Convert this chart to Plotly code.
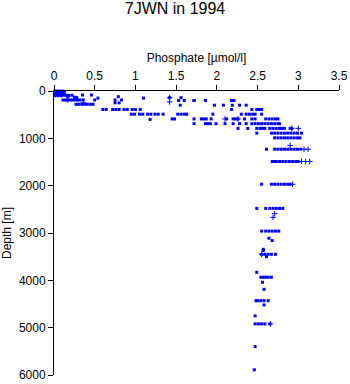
import plotly.graph_objects as go

# Phosphate [umol/l] and depth [m] (square markers)
phosphate = [
    # surface cluster 0-100 m
    0.01, 0.03, 0.05, 0.07, 0.09, 0.11, 0.13, 0.02, 0.04, 0.06, 0.08, 0.10, 0.12,
    0.01, 0.03, 0.05, 0.07, 0.09, 0.12, 0.02, 0.04, 0.06, 0.08, 0.10, 0.13, 0.01, 0.05, 0.09,
    # ~90-150 m
    0.15, 0.18, 0.22, 0.35, 0.46, 0.17, 0.25, 0.28, 0.54, 0.79, 1.10, 0.75, 1.42, 1.56, 1.72,
    # ~190-200 m
    0.11, 0.14, 0.17, 0.20, 0.23, 0.26, 0.29, 0.32, 0.36, 0.50, 0.75, 0.83,
    1.53, 1.60, 1.72, 1.86, 2.18, 2.21,
    # ~250-300 m
    0.27, 0.30, 0.34, 0.38, 0.41, 0.45, 0.48, 0.80,
    1.55, 1.97, 2.08, 2.19, 2.28, 2.36,
    # ~390 m
    0.60, 0.64, 0.72, 0.76, 0.80, 0.86, 0.90, 0.96, 1.00, 1.06,
    2.18, 2.43, 2.49, 2.52, 2.55,
    # ~490 m
    0.95, 0.99, 1.05, 1.09, 1.15, 1.19, 1.24, 1.28, 1.34, 1.52, 1.56, 1.60,
    1.63, 1.95, 2.30, 2.36, 2.40, 2.44, 2.47, 2.55,
    # ~590 m
    1.18, 1.45, 1.48, 1.72, 1.81, 1.84, 1.87, 1.93, 2.12, 2.20, 2.23, 2.26, 2.34, 2.43,
    2.47, 2.60, 2.64, 2.68, 2.72, 2.75,
    # ~690 m
    1.72, 1.86, 1.89, 1.92, 1.99, 2.10, 2.20, 2.28, 2.36, 2.43, 2.47, 2.51, 2.55, 2.59,
    2.63, 2.67, 2.71, 2.75, 2.77,
    # ~790 m
    2.26, 2.38, 2.49, 2.53, 2.56, 2.59, 2.65, 2.69, 2.73, 2.77, 2.80, 2.83, 2.90, 2.92,
    # ~890 m
    2.49, 2.67, 2.71, 2.75, 2.79, 2.83, 2.87, 2.91, 2.95, 2.99, 3.04,
    # ~990 m
    2.71, 2.75, 2.79, 2.83, 2.87, 2.91, 2.95, 2.99, 3.02,
    # ~1230 m
    2.61, 2.71, 2.75, 2.79, 2.83, 2.87, 2.91, 2.95, 2.99, 3.03,
    # ~1490 m
    2.68, 2.71, 2.73, 2.77, 2.81, 2.85, 2.89, 2.93, 2.97, 3.00,
    # ~1970 m
    2.55, 2.67, 2.71, 2.75, 2.79, 2.83, 2.87, 2.90,
    # ~2480 m
    2.49, 2.60, 2.65, 2.69, 2.73, 2.77, 2.81,
    # deeper
    2.55, 2.60, 2.64, 2.68, 2.72, 2.76, 2.64, 2.68, 2.57, 2.57,
    2.55, 2.59, 2.63, 2.67, 2.72, 2.61,
    2.49, 2.54, 2.57, 2.60, 2.63, 2.67, 2.56, 2.58,
    2.48, 2.50, 2.54, 2.58, 2.63, 2.58, 2.47,
    2.47, 2.51, 2.55, 2.59, 2.65, 2.47, 2.46,
]
depth = [
    5, 5, 5, 5, 5, 5, 10, 20, 25, 20, 30, 25, 20,
    40, 50, 45, 50, 55, 50, 75, 80, 70, 75, 80, 90, 100, 100, 100,
    90, 95, 90, 85, 85, 120, 130, 140, 150, 120, 150, 250, 140, 140, 200,
    190, 190, 190, 190, 190, 190, 190, 190, 190, 190, 190, 190,
    200, 200, 200, 200, 200, 200,
    280, 280, 280, 280, 280, 280, 280, 250,
    300, 300, 300, 300, 300, 300,
    390, 390, 390, 390, 390, 390, 390, 390, 390, 390,
    390, 390, 390, 390, 390,
    490, 490, 490, 490, 490, 490, 490, 490, 490, 490, 490, 490,
    490, 490, 490, 490, 490, 490, 490, 490,
    600, 590, 590, 590, 590, 590, 590, 590, 590, 590, 590, 590, 590, 590,
    590, 590, 590, 590, 590, 590,
    690, 690, 690, 690, 690, 690, 690, 690, 690, 690, 690, 690, 690, 690,
    690, 690, 690, 690, 690,
    790, 790, 790, 790, 790, 790, 790, 790, 790, 790, 790, 790, 790, 790,
    890, 890, 890, 890, 890, 890, 890, 890, 890, 890, 890,
    990, 990, 990, 990, 990, 990, 990, 990, 990,
    1230, 1230, 1230, 1230, 1230, 1230, 1230, 1230, 1230, 1230,
    1490, 1490, 1490, 1490, 1490, 1490, 1490, 1490, 1490, 1490,
    1970, 1970, 1970, 1970, 1970, 1970, 1970, 1970,
    2480, 2480, 2480, 2480, 2480, 2480, 2480,
    2960, 2960, 2960, 2960, 2960, 2960, 3110, 3160, 3345, 3370,
    3450, 3450, 3450, 3450, 3450, 3500,
    3830, 3935, 3935, 3935, 3935, 3935, 4040, 4190,
    4430, 4430, 4430, 4430, 4430, 4520, 4750,
    4920, 4920, 4920, 4920, 4920, 5400, 5890,
]

# Points drawn with a "+" symbol
plus_phosphate = [0.17, 0.36, 1.42, 1.42, 2.26, 2.10, 2.90, 2.92, 3.00, 3.07, 3.12, 3.04, 3.09, 3.14,
                  2.93, 2.71, 2.69, 2.55, 2.66]
plus_depth = [190, 250, 140, 230, 590, 590, 1150, 790, 790, 1230, 1230, 1490, 1490, 1490,
              1970, 2590, 2670, 3450, 4920]

x_ticks = [0, 0.5, 1, 1.5, 2, 2.5, 3, 3.5]
x_tick_labels = ["0", "0.5", "1", "1.5", "2", "2.5", "3", "3.5"]
y_ticks = [0, 1000, 2000, 3000, 4000, 5000, 6000]

fig = go.Figure()
fig.add_trace(go.Scatter(
    x=phosphate, y=depth, mode="markers",
    marker=dict(symbol="square", size=3, color="#0000FF", line=dict(width=0)),
    hoverinfo="skip", showlegend=False, cliponaxis=False,
))
fig.add_trace(go.Scatter(
    x=plus_phosphate, y=plus_depth, mode="markers",
    marker=dict(symbol="cross-thin-open", size=4, color="#0000FF",
                line=dict(width=1, color="#0000FF")),
    hoverinfo="skip", showlegend=False, cliponaxis=False,
))

font = "Liberation Sans, Arial, Helvetica, sans-serif"
fig.update_layout(
    width=350, height=384,
    margin=dict(l=54, r=11, t=91, b=9, autoexpand=False),
    paper_bgcolor="white", plot_bgcolor="white",
    font=dict(family=font, size=12, color="black"),
    title=dict(text="7JWN in 1994", x=0.5, xanchor="center", y=0.978, yanchor="middle",
               font=dict(size=16, family=font, color="black")),
    xaxis=dict(
        side="top", range=[0, 3.5], tickvals=x_ticks, ticktext=x_tick_labels,
        ticks="outside", ticklen=5, tickwidth=1, tickcolor="black",
        showline=True, linecolor="black", linewidth=1, showgrid=False, zeroline=False,
        automargin=False,
        title=dict(text="Phosphate [µmol/l]", standoff=4, font=dict(size=12)),
        tickfont=dict(size=12),
    ),
    yaxis=dict(
        range=[6000, 0], tickvals=y_ticks,
        ticks="outside", ticklen=5, tickwidth=1, tickcolor="black",
        showline=True, linecolor="black", linewidth=1, showgrid=False, zeroline=False,
        automargin=False,
        title=dict(text="Depth [m]", standoff=4, font=dict(size=12)),
        tickfont=dict(size=12),
    ),
)

fig.write_html("out.html")
